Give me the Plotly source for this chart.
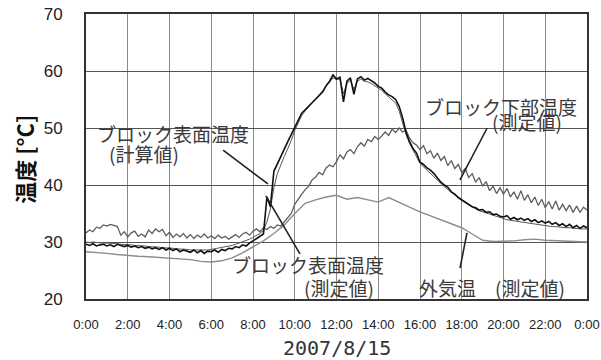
import plotly.graph_objects as go

# ---- data (temperatures in deg C) ----
# 10-minute samples, 0:00 .. 24:00
t10 = list(range(0, 1441, 10))
# 30-minute samples
t30 = list(range(0, 1441, 30))

surface_main = [
    29.6, 29.4, 29.7, 29.3, 29.5, 29.6,
    29.3, 29.5, 29.2, 29.6, 29.4, 29.2,
    29.4, 29.1, 29.3, 29.0, 29.2, 28.9,
    29.1, 28.8, 29.0, 28.7, 29.0, 28.6,
    28.9, 28.5, 28.8, 28.3, 28.6, 28.4,
    28.2, 28.6, 28.1, 28.5, 28.0, 28.4,
    28.3, 28.6, 28.2, 28.7, 28.5, 28.9,
    28.8, 29.2, 29.0, 29.5, 29.3, 29.8,
    30.2, 30.6, 31.0, 31.4, 37.9, 36.2,
    42.4, 43.8, 45.0, 46.3, 47.6, 48.8,
    50.2, 51.4, 52.6, 53.2, 53.8, 54.5,
    55.0, 55.6, 56.3, 57.4, 58.2, 59.3,
    58.6, 58.9, 54.6, 58.2, 58.8, 55.9,
    58.6, 59.0, 58.4, 58.7, 58.3, 57.9,
    57.3, 57.0, 56.3, 55.8, 55.5, 55.0,
    53.8, 51.8, 49.2, 47.6, 46.4, 45.6,
    44.0, 43.6, 43.0, 42.6, 42.0, 41.2,
    40.5, 40.0, 39.6, 38.8, 38.4, 37.8,
    37.4, 37.0, 36.6, 36.2, 36.0, 35.6,
    35.7, 35.2, 35.3, 34.8, 34.9, 34.5,
    34.4, 34.6, 34.0, 34.3, 33.9, 34.2,
    33.8, 34.1, 33.6, 33.9, 33.4, 33.7,
    33.3, 33.6, 33.1, 33.4, 32.9, 33.2,
    32.7, 33.1, 32.5, 32.9, 32.4, 32.8,
    32.5,
]

surface_calc = [
    30.0, 29.9, 30.0, 29.9, 29.9, 29.8,
    29.8, 29.8, 29.7, 29.7, 29.6, 29.6,
    29.5, 29.5, 29.4, 29.4, 29.3, 29.3,
    29.2, 29.2, 29.1, 29.1, 29.0, 29.0,
    28.9, 28.9, 28.8, 28.8, 28.7, 28.7,
    28.6, 28.6, 28.6, 28.5, 28.6, 28.6,
    28.7, 28.8, 28.9, 29.0, 29.1, 29.3,
    29.4, 29.6, 29.8, 30.0, 30.2, 30.5,
    30.8, 31.1, 31.5, 32.0, 33.5, 35.8,
    39.5, 42.0, 43.6, 45.0, 46.4, 47.8,
    49.6, 51.0, 52.2, 53.0, 53.7, 54.3,
    55.0, 55.7, 56.5, 57.3, 58.0, 58.8,
    58.5, 58.6, 56.0, 57.8, 58.4, 56.8,
    58.2, 58.6, 58.2, 58.1, 57.8, 57.4,
    57.0, 56.6, 56.0, 55.5, 55.0, 54.4,
    53.0, 51.0, 48.8, 47.3, 46.1, 45.0,
    43.8, 43.2, 42.6, 42.1, 41.5, 40.9,
    40.3, 39.7, 39.2, 38.7, 38.2, 37.8,
    37.3, 36.9, 36.5, 36.2, 35.8, 35.5,
    35.3, 35.0, 34.8, 34.6, 34.4, 34.2,
    34.1, 33.9, 33.8, 33.7, 33.6, 33.5,
    33.4, 33.3, 33.2, 33.1, 33.0, 32.9,
    32.9, 32.8, 32.7, 32.7, 32.6, 32.6,
    32.5, 32.5, 32.4, 32.4, 32.3, 32.3,
    32.3,
]

bottom_meas = [
    31.6, 32.1, 31.8, 32.6, 32.4, 33.0,
    32.8, 33.1, 32.9, 32.7, 31.2, 31.8,
    30.9, 31.6, 31.9, 31.0, 31.4, 30.9,
    32.1, 31.5, 32.3, 31.8, 32.2, 31.1,
    31.7, 30.8, 31.4, 30.9, 31.5, 30.7,
    31.3, 30.6, 31.2, 30.8, 31.4, 30.7,
    31.1, 30.6, 31.2, 30.7, 31.0, 30.5,
    30.9, 31.3, 30.8, 31.4, 31.7, 31.2,
    31.9, 32.3, 31.8, 32.5, 32.2, 32.7,
    32.4, 33.0, 32.8, 33.6, 34.2, 35.0,
    36.6, 37.6, 38.4, 39.2, 39.8, 40.9,
    41.4, 42.2, 41.8, 43.0, 43.5, 43.2,
    44.1, 45.3, 44.6, 45.8, 46.2, 45.5,
    46.7, 47.4, 46.8, 48.0, 47.6, 48.5,
    48.0, 48.6, 49.3, 48.7, 49.8, 49.2,
    50.0, 49.3, 49.6, 48.2, 47.4, 47.0,
    46.2, 46.9, 45.5, 46.0, 44.7, 45.6,
    44.3, 45.0, 43.4, 44.3, 42.9, 43.6,
    42.2, 42.9, 41.3, 42.0, 40.5, 41.3,
    39.8, 40.6, 39.0, 39.8, 38.5, 39.5,
    38.4, 39.4, 37.9, 38.8, 37.5, 39.0,
    37.3, 38.3, 36.9, 37.9, 36.4, 37.5,
    36.0, 37.1, 35.8, 37.2, 35.6, 36.6,
    35.5, 36.5, 35.2, 36.3, 35.2, 36.1,
    35.6,
]

outdoor = [
    28.3, 28.2, 28.0, 27.8, 27.6, 27.5, 27.4, 27.3, 27.2, 27.1,
    26.9, 26.6, 26.5, 26.7, 27.2, 28.1, 29.2, 30.2, 31.5, 33.0,
    35.0, 36.8, 37.4, 37.9, 38.2, 37.5, 37.8, 37.4, 37.0, 37.8,
    36.9, 36.1, 35.3, 34.6, 33.9, 33.2, 32.5, 31.4, 30.3, 30.1,
    30.1, 30.2, 30.4, 30.5, 30.3, 30.2, 30.1, 30.1, 30.0,
]

tick_vals = list(range(0, 1441, 120))
tick_text = ["0:00", "2:00", "4:00", "6:00", "8:00", "10:00", "12:00",
             "14:00", "16:00", "18:00", "20:00", "22:00", "0:00"]

fig = go.Figure()
fig.add_trace(go.Scatter(x=t30, y=outdoor, mode="lines",
                         line=dict(color="#8c8c8c", width=1.4)))
fig.add_trace(go.Scatter(x=t10, y=bottom_meas, mode="lines",
                         line=dict(color="#5e5e5e", width=1.3)))
fig.add_trace(go.Scatter(x=t10, y=surface_calc, mode="lines",
                         line=dict(color="#555555", width=1.0)))
fig.add_trace(go.Scatter(x=t10, y=surface_main, mode="lines",
                         line=dict(color="#111111", width=1.6)))

# leader lines (data coordinates)
leaders = [
    (394, 46.1, 523, 40.2),
    (517, 38.1, 615, 27.9),
    (1153, 50.0, 1075, 40.9),
    (1095, 31.6, 1075, 25.4),
]
for x0, y0, x1, y1 in leaders:
    fig.add_shape(type="line", x0=x0, y0=y0, x1=x1, y1=y1, xref="x", yref="y",
                  line=dict(color="#222222", width=1.6))

label_font = dict(family="Noto Sans CJK JP", size=19, color="#3a3a3a")
labels = [
    ("ブロック表面温度", 250, 49.1),
    ("(計算値)", 167, 45.6),
    ("ブロック下部温度", 1193, 53.7),
    ("(測定値)", 1268, 51.1),
    ("ブロック表面温度", 638, 26.0),
    ("(測定値)", 727, 22.1),
    ("外気温　(測定値)", 1167, 22.1),
]
for txt, x, y in labels:
    fig.add_annotation(text=txt, x=x, y=y, xref="x", yref="y", showarrow=False,
                       font=label_font, xanchor="center", yanchor="middle")

fig.add_annotation(text="<b>温度 [°C]</b>", xref="paper", yref="paper",
                   x=-0.123, y=0.49, textangle=-90, showarrow=False,
                   font=dict(family="Noto Sans CJK JP", size=22, color="#111111"),
                   xanchor="center", yanchor="middle")
fig.add_annotation(text="2007/8/15", xref="paper", yref="paper",
                   x=0.5, y=-0.172, showarrow=False,
                   font=dict(family="DejaVu Sans Mono", size=20, color="#333333"),
                   xanchor="center", yanchor="middle")

fig.update_layout(
    width=601, height=360,
    margin=dict(l=86, r=14, t=14, b=61),
    paper_bgcolor="white", plot_bgcolor="white",
    showlegend=False,
)
fig.update_xaxes(range=[0, 1440], tickvals=tick_vals, ticktext=tick_text,
                 automargin=False, ticklabeloverflow="allow",
                 showgrid=True, gridcolor="#8a8a8a", gridwidth=1,
                 showline=True, mirror=True, linecolor="#333333", linewidth=2,
                 ticks="outside", ticklen=12, tickcolor="rgba(0,0,0,0)",
                 tickfont=dict(family="Liberation Sans", size=13, color="#222222"),
                 zeroline=False)
fig.update_yaxes(range=[20, 70], tickvals=[20, 30, 40, 50, 60, 70],
                 automargin=False, ticklabeloverflow="allow",
                 showgrid=True, gridcolor="#555555", gridwidth=1.2,
                 showline=True, mirror=True, linecolor="#333333", linewidth=2,
                 ticks="outside", ticklen=18, tickcolor="rgba(0,0,0,0)",
                 tickfont=dict(family="Liberation Sans", size=17, color="#222222"),
                 zeroline=False)

# remove the default page margin so the 601x360 figure fills the window exactly
fig.write_html("out.html",
               config={"displayModeBar": False},
               post_script="document.body.style.margin='0';"
                           "document.body.style.overflow='hidden';")
